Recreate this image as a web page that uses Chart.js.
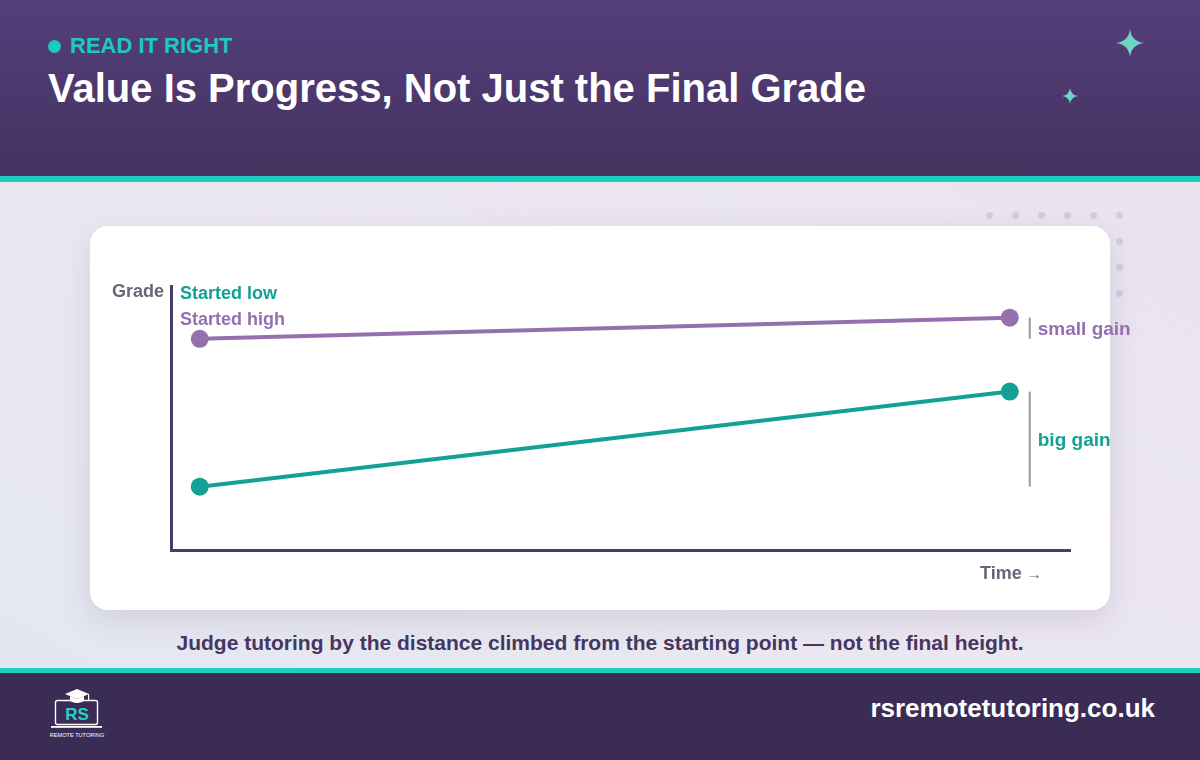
<!DOCTYPE html>
<html>
<head>
<meta charset="utf-8">
<script src="https://cdn.jsdelivr.net/npm/chart.js@4/dist/chart.umd.min.js"></script>
<style>
  html, body { margin:0; padding:0; }
  body { width:1200px; height:760px; position:relative; overflow:hidden;
    font-family:"Liberation Sans", Arial, sans-serif;
    background: linear-gradient(30deg, #e2e7f0 0%, #ebe7f1 45%, #e8e2ef 100%); }
  .header { position:absolute; left:0; top:0; width:1200px; height:176px;
    background: linear-gradient(180deg, #543f7c 0%, #45325f 100%); }
  .stripe { position:absolute; left:0; width:1200px; background:#1ccdc0; }
  .kicker { position:absolute; left:70px; top:33px; font-size:22px; font-weight:bold; color:#1ec9bd; }
  .kdot { position:absolute; left:48px; top:40px; width:13px; height:13px; border-radius:50%; background:#1ec9bd; }
  .title { position:absolute; left:48px; top:66px; font-size:40px; font-weight:bold; color:#fff; }
  .footer { position:absolute; left:0; top:673px; width:1200px; height:87px; background:#3a2c55; }
  .site { position:absolute; right:45px; top:693px; font-size:26px; font-weight:bold; color:#fff; }
  .card { position:absolute; left:90px; top:226px; width:1020px; height:384px; background:#fff; border-radius:18px;
    box-shadow: 0 10px 30px rgba(70,50,110,0.13); }
  .dots { position:absolute; }
  .dot { position:absolute; width:7px; height:7px; border-radius:50%; background:#d4cbe1; }
  canvas { position:absolute; left:0; top:0; }
  .lbl { position:absolute; font-size:18px; font-weight:bold; white-space:nowrap; line-height:20px; }
  .gain { font-size:19px; }
  .caption { position:absolute; left:0; width:1200px; top:631px; text-align:center; font-size:21px; font-weight:bold; color:#45365f; }
</style>
</head>
<body>
<div class="header"></div>
<div class="stripe" style="top:176px;height:6px;"></div>
<div class="kdot"></div>
<div class="kicker">READ IT RIGHT</div>
<div class="title">Value Is Progress, Not Just the Final Grade</div>
<svg style="position:absolute;left:1115px;top:28px" width="30" height="30" viewBox="-15 -15 30 30">
  <path d="M0,-14 Q1.5,-1.5 14,0 Q1.5,1.5 0,14 Q-1.5,1.5 -14,0 Q-1.5,-1.5 0,-14Z" fill="#6fd3c5"/>
</svg>
<svg style="position:absolute;left:1061px;top:87px" width="18" height="18" viewBox="-9 -9 18 18">
  <path d="M0,-8 Q0.9,-0.9 8,0 Q0.9,0.9 0,8 Q-0.9,0.9 -8,0 Q-0.9,-0.9 0,-8Z" fill="#6fd3c5"/>
</svg>

<div class="dots" id="dots"></div>

<div class="card">
  <canvas id="chart" width="1020" height="384"></canvas>
  <div class="lbl" style="left:22px;top:55px;color:#6b6479;">Grade</div>
  <div class="lbl" id="lgLow" style="left:90px;top:57px;color:#14a093;"></div>
  <div class="lbl" id="lgHigh" style="left:90px;top:83px;color:#9471ae;"></div>
  <div class="lbl gain" id="gainHigh" style="color:#9471ae;"></div>
  <div class="lbl gain" id="gainLow" style="color:#14a093;"></div>
  <div class="lbl" style="left:890px;top:337px;color:#6b6479;">Time <span style="font-weight:normal;font-size:15px;">→</span></div>
</div>

<div class="caption">Judge tutoring by the distance climbed from the starting point — not the final height.</div>

<div class="stripe" style="top:668px;height:5px;"></div>
<div class="footer"></div>
<svg style="position:absolute;left:46px;top:686px" width="62" height="56" viewBox="0 0 62 56">
  <g fill="#fff">
    <path d="M19,8 L31,3 L43,8 L31,13 Z"/>
    <path d="M24,10 L24,15 Q31,19 38,15 L38,10 L31,13 Z"/>
    <rect x="42" y="8" width="1.2" height="6"/>
  </g>
  <rect x="9.5" y="14.5" width="42" height="24" rx="2" fill="none" stroke="#fff" stroke-width="1.4"/>
  <rect x="5" y="40" width="51" height="1.8" fill="#fff"/>
  <text x="31" y="34" text-anchor="middle" font-family="Liberation Sans, Arial" font-weight="bold" font-size="17" fill="#27d3c6">RS</text>
  <text x="31" y="51" text-anchor="middle" font-family="Liberation Sans, Arial" font-size="5.6" fill="#fff">REMOTE TUTORING</text>
</svg>
<div class="site">rsremotetutoring.co.uk</div>

<script>
// ---- data ----
const seriesNames = ['Started low', 'Started high'];
const gainLabels = ['big gain', 'small gain'];
const timePoints = [3.2, 93.3];          // start, end (share of time axis)
const startedLow = [24, 60];             // grade at start, end
const startedHigh = [80, 88];            // grade at start, end
const gradeRange = [0, 100];
const timeRange = [0, 100];

// decorative dot grid
const dotsEl = document.getElementById('dots');
for (let r = 0; r < 4; r++) for (let c = 0; c < 6; c++) {
  const d = document.createElement('div');
  d.className = 'dot';
  d.style.left = (986 + c * 26) + 'px';
  d.style.top = (212 + r * 26) + 'px';
  dotsEl.appendChild(d);
}

document.getElementById('lgLow').textContent = seriesNames[0];
document.getElementById('lgHigh').textContent = seriesNames[1];
document.getElementById('gainLow').textContent = gainLabels[0];
document.getElementById('gainHigh').textContent = gainLabels[1];

const TEAL = '#14a093', PURPLE = '#9471ae', AXIS = '#4b3b6b';

const gainPlugin = {
  id: 'gainBrackets',
  afterDatasetsDraw(chart) {
    const { ctx, scales: { x, y } } = chart;
    const bx = x.getPixelForValue(timePoints[1]) + 20;
    const pairs = [[startedHigh, 'gainHigh'], [startedLow, 'gainLow']];
    ctx.save();
    ctx.strokeStyle = '#9a96a3';
    ctx.lineWidth = 2;
    pairs.forEach(([s, id]) => {
      const y0 = y.getPixelForValue(s[0]);
      const y1 = y.getPixelForValue(s[1]);
      ctx.beginPath();
      ctx.moveTo(bx, y0);
      ctx.lineTo(bx, y1);
      ctx.stroke();
      const el = document.getElementById(id);
      el.style.left = (bx + 8) + 'px';
      el.style.top = ((y0 + y1) / 2 - 9) + 'px';
    });
    ctx.restore();
  }
};

new Chart(document.getElementById('chart'), {
  type: 'line',
  data: {
    datasets: [
      { label: seriesNames[1], data: timePoints.map((t, i) => ({ x: t, y: startedHigh[i] })),
        borderColor: PURPLE, backgroundColor: PURPLE, borderWidth: 4, pointRadius: 9, pointBorderWidth: 0 },
      { label: seriesNames[0], data: timePoints.map((t, i) => ({ x: t, y: startedLow[i] })),
        borderColor: TEAL, backgroundColor: TEAL, borderWidth: 4, pointRadius: 9, pointBorderWidth: 0 }
    ]
  },
  options: {
    responsive: false,
    animation: false,
    events: [],
    layout: { padding: { left: 81, top: 60, right: 40, bottom: 60 } },
    plugins: { legend: { display: false }, tooltip: { enabled: false } },
    scales: {
      x: { type: 'linear', min: timeRange[0], max: timeRange[1],
        ticks: { display: false }, grid: { display: false, drawTicks: false },
        border: { display: true, color: AXIS, width: 3 } },
      y: { type: 'linear', min: gradeRange[0], max: gradeRange[1],
        ticks: { display: false }, grid: { display: false, drawTicks: false },
        border: { display: true, color: AXIS, width: 3 } }
    }
  },
  plugins: [gainPlugin]
});
</script>
</body>
</html>
